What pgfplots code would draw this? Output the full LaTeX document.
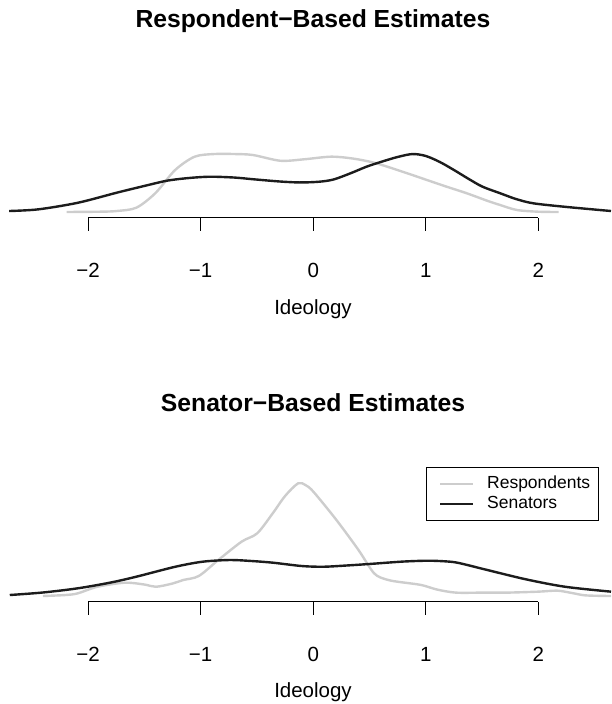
\documentclass[border=0pt]{standalone}
\usepackage{pgfplots}
\pgfplotsset{compat=1.18}
\usepackage{fontspec}
\setmainfont{Liberation Sans}
\definecolor{lgray}{RGB}{205,205,205}
\definecolor{dk}{RGB}{28,28,28}
\begin{document}
\begin{tikzpicture}
\path[use as bounding box] (0pt,0pt) rectangle (611pt,704pt);
\pgfplotsset{
 dens/.style={scale only axis, width=601.8pt, xmin=-2.70, xmax=2.645, ymin=0, hide axis, clip=false},
 tickax/.style={scale only axis, width=450.4pt, height=20pt, xmin=-2, xmax=2, ymin=0, ymax=1,
   axis x line=bottom, axis y line=none, x axis line style={-, line width=1pt, black},
   xtick={-2,-1,0,1,2}, xticklabels={−2,−1,0,1,2}, tick align=outside, major tick length=13pt,
   every tick/.style={black, line width=1pt},
   xticklabel style={font=\fontsize{20.5pt}{24pt}\selectfont, anchor=base, inner sep=0pt, yshift=-47pt}},
 gr/.style={color=lgray, line width=2.4pt, smooth},
 bk/.style={color=dk, line width=2.4pt, smooth},
}
% ---------- top panel ----------
\begin{axis}[dens, at={(9.2pt,492pt)}, anchor=south west, height=70pt, ymax=0.5]
\addplot[gr] coordinates {
(-2.19,0) (-1.9,0.002) (-1.744,0.007) (-1.57,0.031) (-1.4,0.136) (-1.226,0.300)
(-1.053,0.395) (-0.88,0.414) (-0.7,0.414) (-0.535,0.407) (-0.292,0.366) (-0.085,0.376)
(0.157,0.395) (0.35,0.382) (0.55,0.350) (0.8,0.286) (1.008,0.229) (1.18,0.182)
(1.363,0.134) (1.55,0.079) (1.66,0.050) (1.81,0.014) (2.0,0.002) (2.18,0)};
\addplot[bk] coordinates {
(-2.70,0.007) (-2.44,0.019) (-2.09,0.066) (-1.744,0.138) (-1.5,0.186) (-1.295,0.224)
(-1.1,0.243) (-0.915,0.252) (-0.7,0.246) (-0.535,0.234) (-0.3,0.218) (-0.12,0.211)
(0.05,0.216) (0.18,0.232) (0.33,0.276) (0.475,0.324) (0.607,0.359) (0.75,0.393)
(0.883,0.414) (1.0,0.400) (1.125,0.357) (1.25,0.300) (1.367,0.243) (1.5,0.182)
(1.66,0.134) (1.8,0.093) (1.955,0.062) (2.25,0.036) (2.645,0.007)};
\end{axis}
\begin{axis}[tickax, at={(88pt,486pt)}, anchor=south west]
\end{axis}
% ---------- bottom panel ----------
\begin{axis}[dens, at={(9.2pt,108pt)}, anchor=south west, height=140pt, ymax=1.0,
  legend style={at={(0.980,0.921)}, anchor=north east, draw=black, line width=0.8pt,
    font=\fontsize{17.5pt}{20pt}\selectfont, inner xsep=6.8pt, inner ysep=6.5pt,
    column sep=11.6pt, row sep=0pt,
    nodes={inner sep=1.5pt, text height=13pt, text depth=4pt}},
  legend cell align=left,
  legend image code/.code={\path (0pt,0pt); \draw[#1] (5.7pt,0pt) -- (38.4pt,0pt);}]
\addplot[gr] coordinates {
(-2.40,0) (-2.2,0.007) (-2.09,0.019) (-1.917,0.066) (-1.674,0.095) (-1.5,0.082)
(-1.397,0.066) (-1.25,0.089) (-1.155,0.114) (-1.016,0.143) (-0.843,0.257) (-0.636,0.388)
(-0.497,0.448) (-0.359,0.591) (-0.25,0.714) (-0.134,0.805) (-0.07,0.793) (-0.012,0.757)
(0.1,0.650) (0.229,0.519) (0.402,0.329) (0.541,0.162) (0.649,0.118) (0.749,0.102)
(0.957,0.079) (1.1,0.046) (1.268,0.024) (1.5,0.024) (1.718,0.024) (2.0,0.031)
(2.168,0.038) (2.3,0.021) (2.41,0.005) (2.55,0.001) (2.645,0)};
\addlegendentry{Respondents}
\addplot[bk] coordinates {
(-2.695,0.007) (-2.4,0.025) (-2.09,0.055) (-1.8,0.096) (-1.57,0.138) (-1.224,0.209)
(-0.982,0.245) (-0.74,0.257) (-0.55,0.250) (-0.359,0.238) (-0.1,0.214) (0.09,0.209)
(0.3,0.218) (0.506,0.229) (0.8,0.246) (1.026,0.252) (1.2,0.246) (1.303,0.234)
(1.545,0.186) (1.89,0.119) (2.237,0.066) (2.645,0.031)};
\addlegendentry{Senators}
\end{axis}
\begin{axis}[tickax, at={(88pt,102.3pt)}, anchor=south west]
\end{axis}
% ---------- titles and axis labels ----------
\node[font=\fontsize{24.7pt}{28pt}\selectfont\bfseries, anchor=base] at (313pt,676.5pt) {Respondent−Based Estimates};
\node[font=\fontsize{24.7pt}{28pt}\selectfont\bfseries, anchor=base] at (313pt,292.8pt) {Senator−Based Estimates};
\node[font=\fontsize{20.5pt}{24pt}\selectfont, anchor=base] at (313pt,389.7pt) {Ideology};
\node[font=\fontsize{20.5pt}{24pt}\selectfont, anchor=base] at (313pt,6.3pt) {Ideology};
\end{tikzpicture}
\end{document}
